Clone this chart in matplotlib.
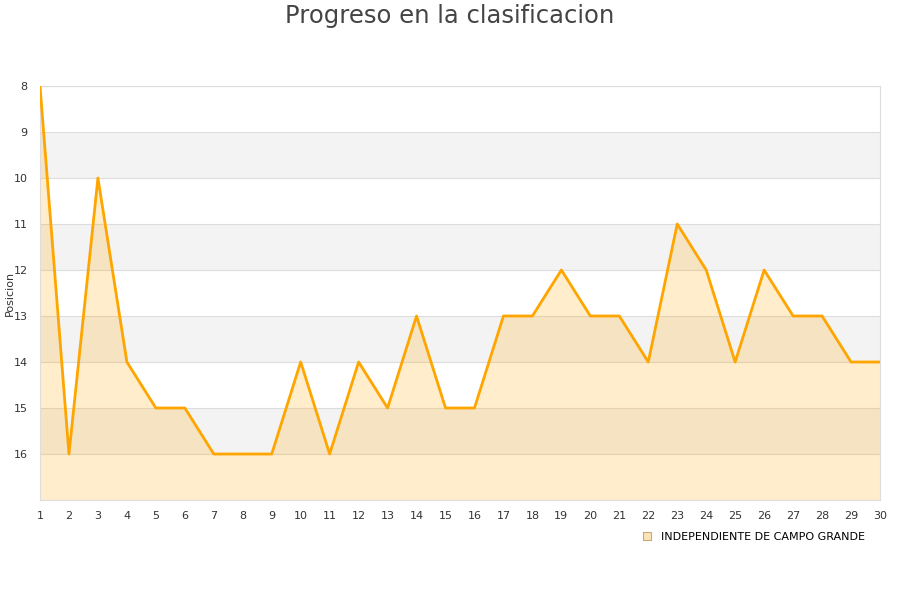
import matplotlib.pyplot as plt
from matplotlib.lines import Line2D

JORNADAS = list(range(1, 31))
POSICIONES = [8, 16, 10, 14, 15, 15, 16, 16, 16, 14,
              16, 14, 15, 13, 15, 15, 13, 13, 12, 13,
              13, 14, 11, 12, 14, 12, 13, 13, 14, 14]
EQUIPO = "INDEPENDIENTE DE CAMPO GRANDE"
Y_TICKS = list(range(8, 17))

LINE_COLOR = "#FFA500"
GRID_COLOR = "#dddddd"
BAND_COLOR = "#f3f3f3"


def main():
    fig = plt.figure(figsize=(9, 6), dpi=100)
    ax = fig.add_axes([40 / 900, 100 / 600, 840 / 900, 414 / 600])

    # alternating bands
    for lo in range(9, 17, 2):
        ax.axhspan(lo, lo + 1, color=BAND_COLOR, zorder=0, lw=0)
    for y in range(8, 18):
        ax.axhline(y, color=GRID_COLOR, lw=0.8, zorder=1)

    ax.fill_between(JORNADAS, POSICIONES, 17, color=LINE_COLOR, alpha=0.2, lw=0, zorder=2)
    ax.plot(JORNADAS, POSICIONES, color=LINE_COLOR, lw=2, zorder=3)

    ax.set_xlim(1, 30)
    ax.set_ylim(17, 8)
    ax.set_xticks(JORNADAS)
    ax.set_yticks(Y_TICKS)
    ax.tick_params(axis="both", length=0, labelsize=8, labelcolor="#333333", pad=8)
    ax.tick_params(axis="y", pad=9)
    for s in ax.spines.values():
        s.set_color(GRID_COLOR)
    ax.set_ylabel("Posicion", fontsize=8, color="#333333")
    ax.yaxis.set_label_coords(-0.03, 0.5)

    fig.suptitle("Progreso en la clasificacion", fontsize=17.5, color="#444444", y=0.993)

    handle = Line2D([], [], marker="s", ls="", markersize=6,
                    markerfacecolor="#fbe3b8", markeredgecolor="#c8a878", markeredgewidth=0.8)
    fig.legend([handle], [EQUIPO], loc="center", bbox_to_anchor=(0.834, 0.105),
               frameon=False, fontsize=8, handletextpad=0.3)

    fig.savefig("out.png", dpi=100)


if __name__ == "__main__":
    main()
